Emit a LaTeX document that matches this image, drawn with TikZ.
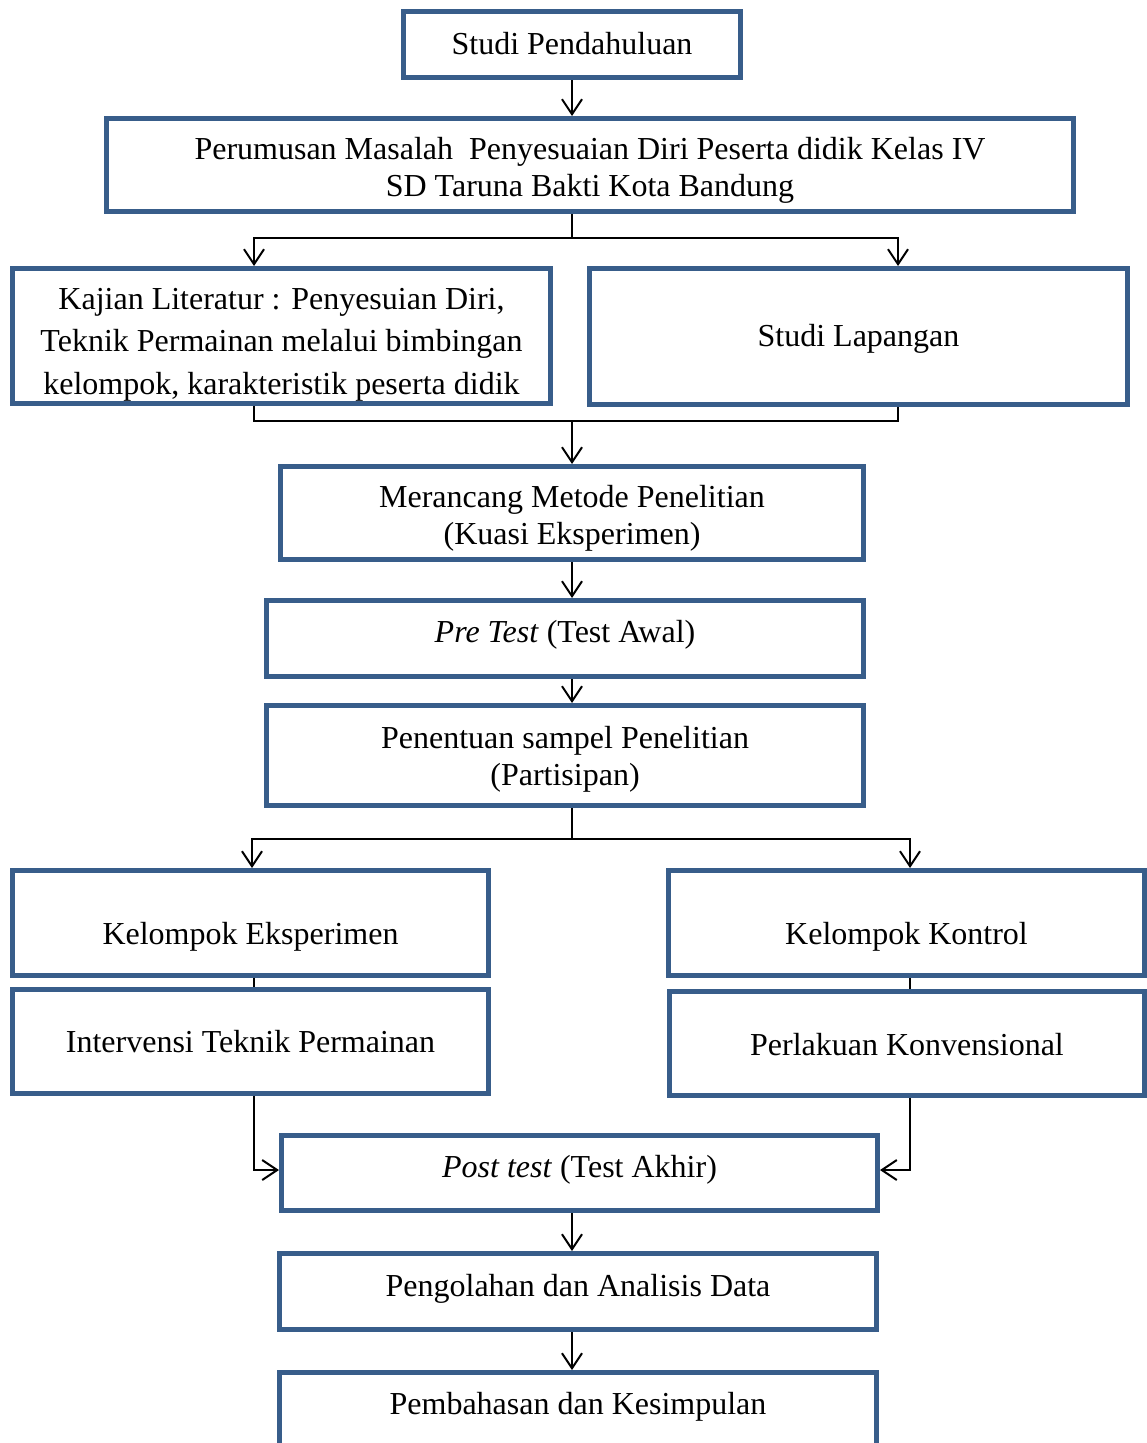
\documentclass[tikz,border=0pt]{standalone}
\usepackage{fontspec}
\setmainfont{Liberation Serif}
\usetikzlibrary{arrows.meta, positioning}
\definecolor{boxblue}{RGB}{56,93,138}
\newcommand{\lowerby}[1]{\rule{0pt}{#1}}

\begin{document}
\begin{tikzpicture}[
        x=1pt, y=-1pt,
        stage/.style={rectangle, draw=boxblue, line width=5pt, fill=white, inner sep=0pt, align=center, font=\fontsize{32}{37}\selectfont},
        one/.style={text height=#1, text depth=7pt},
        one/.default=26pt,
        flow/.style={-{Straight Barb[length=15pt, width=20pt, line width=2pt]}, line width=2pt, draw=black},
        link/.style={line width=2pt, draw=black}
    ]
        \useasboundingbox (0,0) rectangle (1147,1443);
        \clip (0,0) rectangle (1147,1443);
        \coordinate (spine) at (572,0);
        \node[stage, one, minimum width=337, minimum height=66] (studi) at (572,44.5) {Studi Pendahuluan};
        \node[stage, minimum width=967, minimum height=93] (rumus) at (590,165) {\lowerby{32pt}Perumusan Masalah\ \ Penyesuaian Diri Peserta didik Kelas IV\\SD Taruna Bakti Kota Bandung};
        \node[stage, minimum width=538, minimum height=135] (kajian) at (281.5,336) {\lowerby{38pt}Kajian Literatur : Penyesuian Diri,\\[5.5pt]Teknik Permainan melalui bimbingan\\[5.5pt]kelompok, karakteristik peserta didik};
        \node[stage, one, minimum width=538, minimum height=136] (lapangan) at (858.5,336.5) {Studi Lapangan};
        \node[stage, minimum width=583, minimum height=93] (merancang) at (572,513) {\lowerby{32pt}Merancang Metode Penelitian\\(Kuasi Eksperimen)};
        \node[stage, one=15pt, minimum width=597, minimum height=76] (pretest) at (565,638.5) {\textit{Pre Test} (Test Awal)};
        \node[stage, minimum width=597, minimum height=100] (sampel) at (565,755.5) {\lowerby{30pt}Penentuan sampel Penelitian\\(Partisipan)};
        \node[stage, one=49pt, minimum width=476, minimum height=105] (eksperimen) at (250.5,923) {Kelompok Eksperimen};
        \node[stage, one=28pt, minimum width=476, minimum height=104] (intervensi) at (250.5,1041.5) {Intervensi Teknik Permainan};
        \node[stage, one=49pt, minimum width=476, minimum height=105] (kontrol) at (906.5,923) {Kelompok Kontrol};
        \node[stage, one=30pt, minimum width=475, minimum height=104] (konvensional) at (907,1043.5) {Perlakuan Konvensional};
        \node[stage, one=15pt, minimum width=596, minimum height=75] (posttest) at (579.5,1173) {\textit{Post test} (Test Akhir)};
        \node[stage, one=16pt, minimum width=597, minimum height=76] (olah) at (578,1291.5) {Pengolahan dan Analisis Data};
        \node[stage, text height=10pt, text depth=14pt, minimum width=597, minimum height=87] (bahas) at (578,1416) {Pembahasan dan Kesimpulan};
        % first branch
        \coordinate (railA) at (572,238);
        \coordinate (railB) at (572,421);
        \draw[flow] (studi.south) -- (spine |- rumus.north);
        \draw[link] (spine |- rumus.south) -- (railA);
        \draw[flow] (railA) -| ([xshift=-27.5]kajian.north);
        \draw[flow] (railA) -| ([xshift=39.5]lapangan.north);
        \draw[link] ([xshift=-27.5]kajian.south) |- (railB) -| ([xshift=39.5]lapangan.south);
        \draw[flow] (railB) -- (merancang.north);
        \draw[flow] (merancang.south) -- (spine |- pretest.north);
        \draw[flow] (spine |- pretest.south) -- (spine |- sampel.north);
        % second branch
        \coordinate (railC) at (572,839);
        \draw[link] (spine |- sampel.south) -- (railC);
        \draw[flow] (railC) -| ([xshift=1.5]eksperimen.north);
        \draw[flow] (railC) -| ([xshift=3.5]kontrol.north);
        \draw[link] ([xshift=3.5]eksperimen.south) -- ([xshift=3.5]intervensi.north);
        \draw[link] ([xshift=3.5]kontrol.south) -- ([xshift=3]konvensional.north);
        \draw[flow] ([xshift=3.5]intervensi.south) |- ([yshift=3]posttest.west);
        \draw[flow] ([xshift=3]konvensional.south) |- ([yshift=3]posttest.east);
        \draw[flow] (spine |- posttest.south) -- (spine |- olah.north);
        \draw[flow] (spine |- olah.south) -- (spine |- bahas.north);
    \end{tikzpicture}
\end{document}
